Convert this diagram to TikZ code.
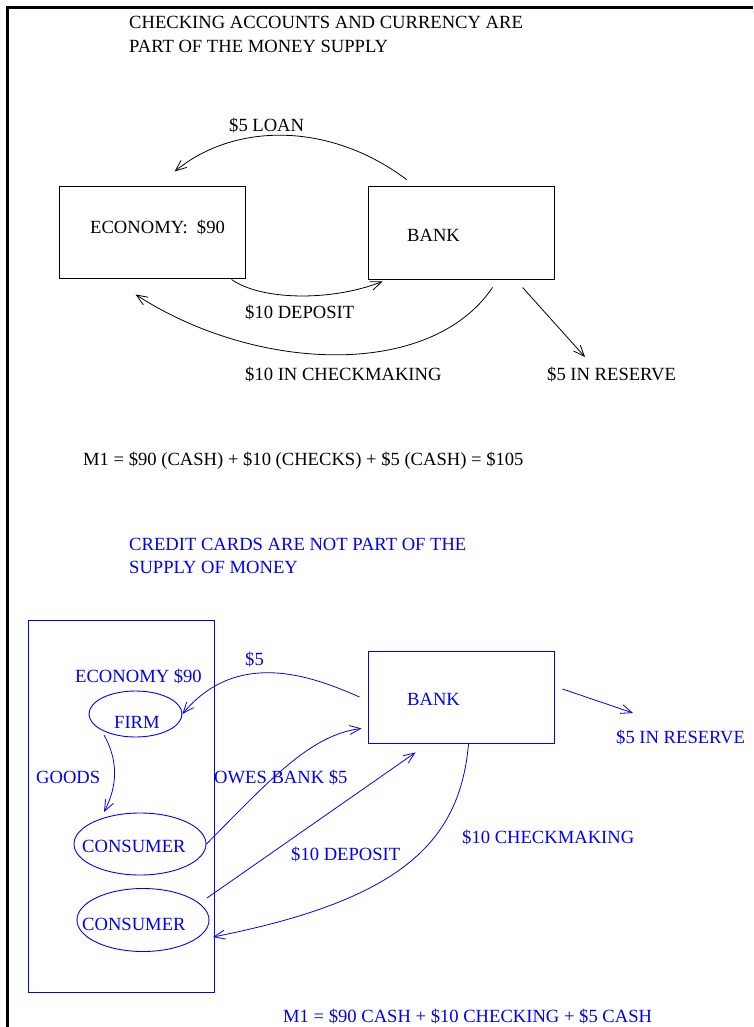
\documentclass[tikz,border=0pt]{standalone}
\usepackage{fontspec}
\setmainfont{Liberation Serif}
\usetikzlibrary{arrows.meta,calc,shapes.geometric}
\definecolor{ink}{RGB}{0,0,255}
\begin{document}
\begin{tikzpicture}[x=1pt,y=-1pt,
  txt/.style={anchor=base west, inner sep=0pt, font=\fontsize{18.6}{22}\selectfont},
  boxnode/.style={draw, inner sep=0pt, line width=0.9pt},
  oval/.style={draw, ellipse, inner sep=0pt, line width=0.9pt},
  flow/.style={-{Straight Barb[length=11pt,width=9pt,line width=0.8pt]}, line width=0.8pt},
  plain/.style={line width=0.8pt}
]
\useasboundingbox (0,0) rectangle (753,1027);

% page frame (left and top edges)
\draw[line width=3pt] (7.5,1027) -- (7.5,7.5) -- (753,7.5);

% ---------- checking accounts and currency ----------
\node[txt] (head1) at (129,29) {CHECKING ACCOUNTS AND CURRENCY ARE};
\node[txt] (head2) at (129,53) {PART OF THE MONEY SUPPLY};

\node[boxnode, minimum width=186pt, minimum height=92pt] (econ) at (152,232) {};
\node[txt] (econlbl) at (90,233) {ECONOMY:\ \ \$90};
\node[boxnode, minimum width=186pt, minimum height=93pt] (bank) at (461,232.5) {};
\node[txt] (banklbl) at (407,241) {BANK};

\coordinate (reserve) at (585,357);

\draw[flow] ($(bank.north west)+(39,-6)$) .. controls (330,122) and (235,122) .. ($(econ.north west)+(116,-14)$);
\draw[flow] ($(econ.south west)+(173,1)$) .. controls (260,300) and (330,302) .. ($(bank.south west)+(15,2)$);
\draw[flow] ($(bank.south west)+(125,8)$) .. controls (430,380) and (255,372) .. ($(econ.south west)+(77,16)$);
\draw[flow] ($(bank.south west)+(155,8)$) -- (reserve);

\node[txt] (loanlbl) at (229,132) {\$5 LOAN};
\node[txt] (deplbl) at (245,318) {\$10 DEPOSIT};
\node[txt] (chklbl) at (245,380) {\$10 IN CHECKMAKING};
\node[txt] (reslbl) at (547,380) {\$5 IN RESERVE};

\node[txt] (m1a) at (83,465) {M1 = \$90 (CASH) + \$10 (CHECKS) + \$5 (CASH) = \$105};

% ---------- credit cards ----------
\begin{scope}[ink, every node/.append style={text=ink}]
\node[txt] (head3) at (129,550) {CREDIT CARDS ARE NOT PART OF THE};
\node[txt] (head4) at (129,573) {SUPPLY OF MONEY};

\node[boxnode, minimum width=186pt, minimum height=372pt] (econ2) at (121,806) {};
\node[txt] (econ2lbl) at (75,682) {ECONOMY \$90};
\node[oval, minimum width=93pt, minimum height=46pt] (firm) at (135.5,714) {};
\node[txt] (firmlbl) at (114,728) {FIRM};
\node[oval, minimum width=132pt, minimum height=62pt] (cons1) at (140,844) {};
\node[txt] (cons1lbl) at (82,852) {CONSUMER};
\node[oval, minimum width=132pt, minimum height=63pt] (cons2) at (143,920) {};
\node[txt] (cons2lbl) at (82,930) {CONSUMER};

\node[boxnode, minimum width=186pt, minimum height=92pt] (bank2) at (461,697) {};
\node[txt] (bank2lbl) at (407,705) {BANK};

\coordinate (reserve2) at (633,713);

\draw[flow] ($(firm.center)+(-31.5,21)$) .. controls (118,760) and (118,785) .. ($(cons1.center)+(-36,-32)$);
\draw[flow] ($(bank2.west)+(-8,0)$) .. controls (320,680) and (240,645) .. (firm.east);
\draw[flow] (cons1.east) .. controls (270,780) and (310,735) .. ($(bank2.south west)+(-6,-15)$);
\draw[flow] ($(cons2.center)+(64,-22)$) -- ($(bank2.south west)+(48,9)$);
\draw[flow] ($(bank2.south west)+(101,0)$) .. controls (460,843) and (400,900) .. ($(cons2.center)+(70,17)$);
\draw[flow] ($(bank2.east)+(8,-8)$) -- (reserve2);

\node[txt] (fivelbl) at (245,665) {\$5};
\node[txt] (goodslbl) at (36,783) {GOODS};
\node[txt] (oweslbl) at (214,783) {OWES BANK \$5};
\node[txt] (dep2lbl) at (291,860) {\$10 DEPOSIT};
\node[txt] (chk2lbl) at (462,843) {\$10 CHECKMAKING};
\node[txt] (res2lbl) at (616,743) {\$5 IN RESERVE};
\node[txt] (m1b) at (283,1022) {M1 = \$90 CASH + \$10 CHECKING + \$5 CASH};
\end{scope}
\end{tikzpicture}
\end{document}
